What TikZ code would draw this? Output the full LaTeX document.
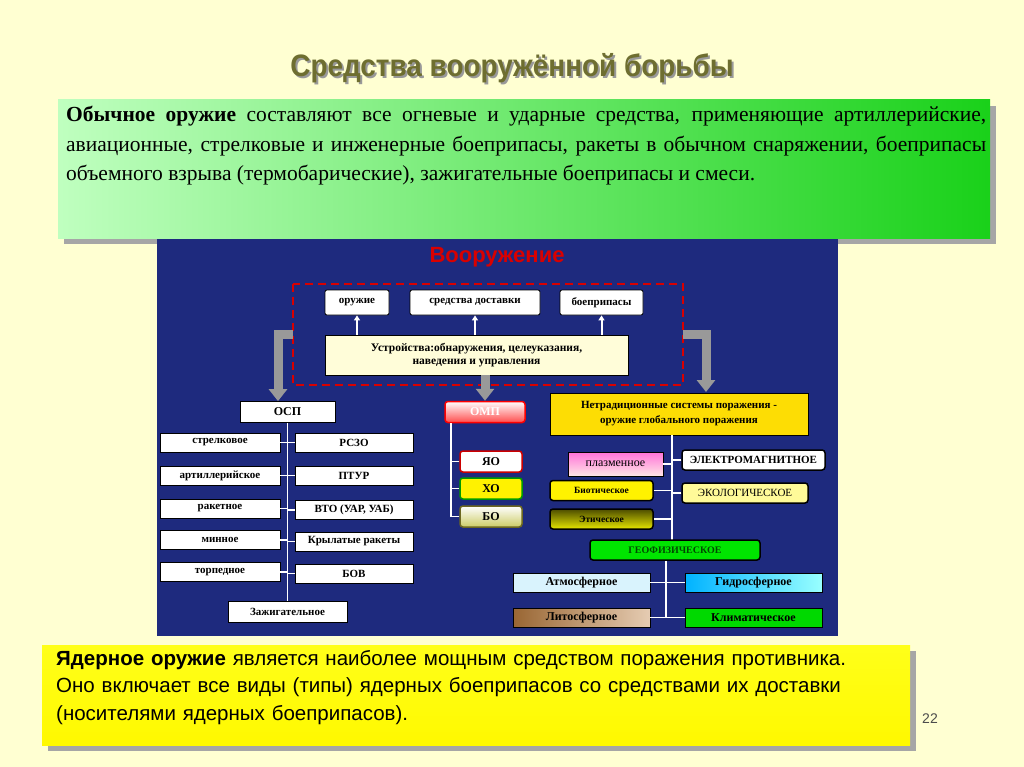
\documentclass[tikz,border=0pt]{standalone}
\usepackage{fontspec}
\setmainfont{Liberation Serif}
\newfontfamily\arial{Liberation Sans}
\usetikzlibrary{shadows,arrows.meta}
\definecolor{bgY}{HTML}{FFFFD2}
\definecolor{navy}{HTML}{1E2A7E}
\definecolor{titleC}{HTML}{6E6E30}
\tikzset{
 bx/.style={draw=black,line width=0.8pt,inner sep=0pt,font=\bfseries\fontsize{11}{12}\selectfont,align=center},
 wbox/.style={bx,fill=white},
 rbox/.style={bx,rounded corners=3pt,line width=1.5pt},
 conn/.style={white,line width=1.4pt},
 garrow/.style={draw=gray!80,line width=9pt,-{Triangle[width=18pt,length=12pt]}},
 warrow/.style={white,line width=2pt,-{Triangle[width=6pt,length=5pt]}},
}
\begin{document}
\begin{tikzpicture}[x=1pt,y=-1pt]
\useasboundingbox (0,0) rectangle (1024,767);
\fill[bgY] (0,0) rectangle (1024,767);
% title
\node[font=\arial\bfseries\fontsize{31}{34}\selectfont,text=black!40,xscale=0.9] at (514,70) {Средства вооружённой борьбы};
\node[font=\arial\bfseries\fontsize{31}{34}\selectfont,text=titleC,xscale=0.9] (title) at (512,68) {Средства вооружённой борьбы};
% green box
\fill[gray!70] (64,106) rectangle (996,244);
\shade[left color=green!25!white,right color=green!80!black!90] (58,100) rectangle (990,238);
\node[anchor=north west,text width=920pt,align=justify,font=\fontsize{21.5}{29.5}\selectfont,inner sep=0pt] (top) at (66,106)
{\textbf{Обычное оружие} составляют все огневые и ударные средства, применяющие артиллерийские, авиационные, стрелковые и инженерные боеприпасы, ракеты в обычном снаряжении, боеприпасы объемного взрыва (термобарические), зажигательные боеприпасы и смеси.};
% navy panel
\fill[navy] (157,239) rectangle (838,636);
\node[font=\arial\bfseries\fontsize{22}{24}\selectfont,text=red!85!black] (vooruzh) at (497,257) {Вооружение};
\draw[red!85!black,line width=2.5pt,dash pattern=on 8pt off 5pt] (293,284) rectangle (683,385);
\node[wbox,rounded corners=2pt,minimum width=64pt,minimum height=25pt] (orug) at (357,302.5) {оружие};
\node[wbox,rounded corners=2pt,minimum width=130pt,minimum height=25pt] (sred) at (475,302.5) {средства доставки};
\node[wbox,rounded corners=2pt,minimum width=83pt,minimum height=25pt] (boep) at (601.5,302.5) {боеприпасы};
\node[bx,fill=yellow!15,minimum width=303pt,minimum height=40pt,font=\bfseries\fontsize{11.5}{13}\selectfont] (ustr) at (476.5,355) {Устройства:обнаружения, целеуказания,\\наведения и управления};
\draw[warrow] (ustr.north -| orug) -- (orug.south);
\draw[warrow] (ustr.north -| sred) -- (sred.south);
\draw[warrow] (ustr.north -| boep) -- (boep.south);
% nodes
\node[wbox,minimum width=95pt,minimum height=21pt,font=\bfseries\fontsize{12}{13}\selectfont] (osp) at (287.5,412) {ОСП};
\node[rbox,draw=red,top color=white,bottom color=red!70,text=white,minimum width=80pt,minimum height=21pt,font=\bfseries\fontsize{12}{13}\selectfont] (omp) at (485,412) {ОМП};
\node[bx,fill=yellow!80!orange,minimum width=258pt,minimum height=42pt,font=\bfseries\fontsize{11}{15}\selectfont] (netr) at (679,414) {Нетрадиционные системы поражения -\\оружие глобального поражения};
% gray arrows
\coordinate (la) at (293,334);
\coordinate (ra) at (683,334);
\draw[garrow] (la) -- (278,334) -- (osp.north -| 278,0);
\draw[garrow] (ra) -- (706,334) -- (706,392);
\draw[garrow] (ustr.south -| omp) -- (omp.north);
% OSP tree
\draw[conn] (osp.south) -- (287.5,604);
\foreach \n/\t/\y in {s1/стрелковое/442.5, s2/артиллерийское/475.5, s3/ракетное/508.5, s4/минное/540, s5/торпедное/572}
 { \node[wbox,minimum width=120pt,minimum height=19pt] (\n) at (220,\y) {\t}; \draw[conn] (\n.east) -- (287.5,\y); }
\foreach \n/\t/\y in {r1/{РСЗО}/442.5, r2/{ПТУР}/475.5, r3/{ВТО (УАР, УАБ)}/510, r4/{Крылатые ракеты}/541.5, r5/{БОВ}/573.5}
 { \node[wbox,minimum width=118pt,minimum height=19pt] (\n) at (354,\y) {\t}; \draw[conn] (\n.west) -- (287.5,\y); }
\node[wbox,minimum width=119pt,minimum height=21pt] (zazh) at (287.5,611.5) {Зажигательное};
% OMP tree
\draw[conn] (omp.south -| 451,0) -- (451,517);
\node[rbox,draw=red!80!black,fill=white,minimum width=62pt,minimum height=21pt,font=\bfseries\fontsize{12}{13}\selectfont] (yao) at (491,461.5) {ЯО};
\node[rbox,draw=green!60!black,fill=yellow,minimum width=62pt,minimum height=21pt,font=\bfseries\fontsize{12}{13}\selectfont] (xo) at (491,488.5) {ХО};
\node[rbox,draw=olive!70!black,top color=white,bottom color=olive!40,minimum width=62pt,minimum height=21pt,font=\bfseries\fontsize{12}{13}\selectfont] (bo) at (491,516.5) {БО};
\foreach \n in {yao,xo,bo} \draw[conn] (\n.west) -- (\n.west -| 451,0);
% netr tree
\draw[conn] (netr.south -| 672,0) -- (672,540);
\node[bx,draw=black,top color=pink!60!magenta,bottom color=pink!40!white,minimum width=95pt,minimum height=24pt,font=\fontsize{12}{13}\selectfont] (plaz) at (615.5,464) {плазменное};
\node[rbox,fill=white,minimum width=143pt,minimum height=20pt] (elek) at (753.5,460) {ЭЛЕКТРОМАГНИТНОЕ};
\node[rbox,fill=yellow,minimum width=103pt,minimum height=20pt,font=\bfseries\fontsize{9.5}{11}\selectfont] (biot) at (601.5,490.5) {Биотическое};
\node[rbox,fill=yellow!40,minimum width=126pt,minimum height=20pt,font=\fontsize{11}{12}\selectfont] (ekol) at (745,493) {ЭКОЛОГИЧЕСКОЕ};
\node[rbox,top color=olive!60!black,bottom color=yellow!80!olive,minimum width=103pt,minimum height=20pt,font=\bfseries\fontsize{9.5}{11}\selectfont] (etic) at (601.5,519) {Этическое};
\node[rbox,fill=green!90!black,text=green!30!black,minimum width=170pt,minimum height=20pt,font=\bfseries\fontsize{10}{11}\selectfont] (geo) at (675,550) {ГЕОФИЗИЧЕСКОЕ};
\foreach \n in {plaz,biot,etic} \draw[conn] (\n.east) -- (\n.east -| 672,0);
\foreach \n in {elek,ekol} \draw[conn] (\n.west) -- (\n.west -| 672,0);
\draw[conn] (geo.south -| 666,0) -- (666,617);
\node[bx,fill=cyan!15,minimum width=137pt,minimum height=19pt,font=\bfseries\fontsize{12}{13}\selectfont] (atm) at (581.5,582.5) {Атмосферное};
\node[bx,left color=cyan!70!blue,right color=cyan!40,minimum width=137pt,minimum height=19pt,font=\bfseries\fontsize{12}{13}\selectfont] (gidr) at (753.5,582.5) {Гидросферное};
\node[bx,left color=brown!80!black,right color=brown!40!white,minimum width=137pt,minimum height=19pt,font=\bfseries\fontsize{12}{13}\selectfont] (lito) at (581.5,617.5) {Литосферное};
\node[bx,fill=green!85!black,minimum width=137pt,minimum height=19pt,font=\bfseries\fontsize{12}{13}\selectfont] (klim) at (753.5,617.5) {Климатическое};
\foreach \n in {atm,lito} \draw[conn] (\n.east) -- (\n.east -| 666,0);
\foreach \n in {gidr,klim} \draw[conn] (\n.west) -- (\n.west -| 666,0);
% yellow bottom box
\fill[gray!70] (48,651) rectangle (916,751);
\shade[top color=yellow!90!white,bottom color=yellow!95!orange] (42,645) rectangle (910,745);
\node[anchor=north west,text width=850pt,align=left,font=\arial\fontsize{20.5}{27.5}\selectfont,inner sep=0pt] (bot) at (56,650)
{\textbf{Ядерное оружие} является наиболее мощным средством поражения противника. Оно включает все виды (типы) ядерных боеприпасов со средствами их доставки (носителями ядерных боеприпасов).};
\node[font=\arial\fontsize{14}{15}\selectfont,text=black!70] (pg) at (930,719) {22};
\end{tikzpicture}
\end{document}
